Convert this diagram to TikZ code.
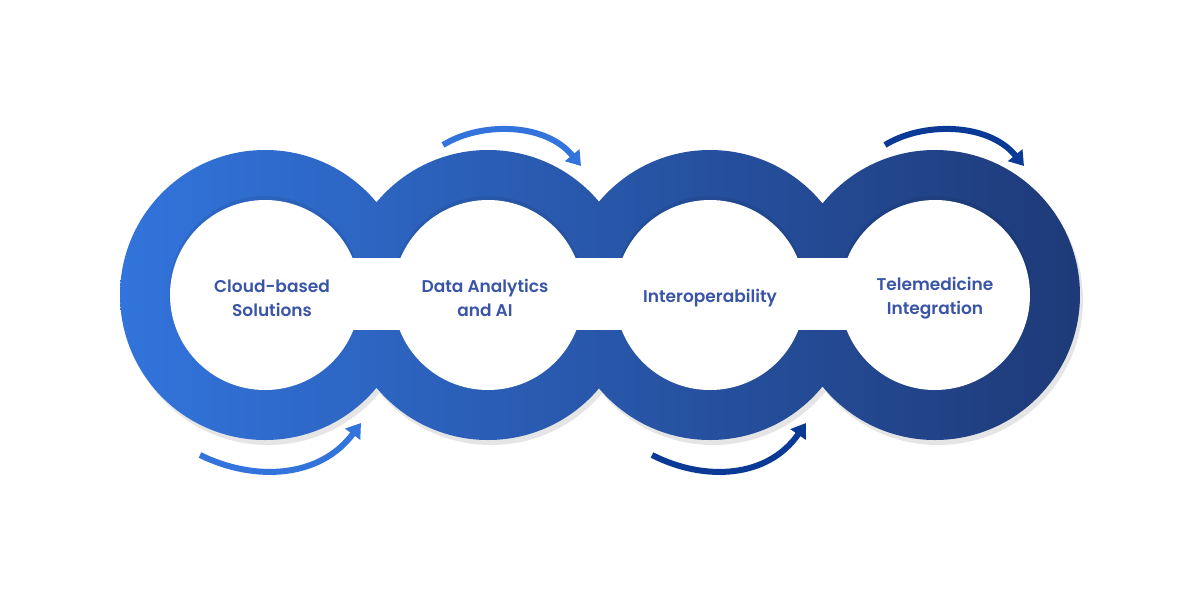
\documentclass[tikz,border=0pt]{standalone}
\usepackage{fontspec}
\setmainfont{Poppins}[UprightFont={* SemiBold}]
\usetikzlibrary{arrows.meta}
\definecolor{txt}{HTML}{3A55A8}
\definecolor{lb}{HTML}{3274DC}
\definecolor{nv}{HTML}{0B3A96}
\definecolor{dk}{HTML}{1E3A78}
\begin{document}
\begin{tikzpicture}[x=1pt,y=-1pt,
  lbl/.style={font=\fontsize{17}{24}\selectfont,text=txt,align=center},
  hole/.style={fill=white},
  arr/.style={line width=6pt,-{Triangle[length=14pt,width=18pt]}}]
\useasboundingbox (0,0) rectangle (1200,600);
\fill[white] (0,0) rectangle (1200,600);
% shadow
\fill[black,opacity=0.10] (268,300) circle (145) (491,300) circle (145) (713,300) circle (145) (938,300) circle (145);
\begin{scope}
\clip (265,295) circle (145) (488,295) circle (145) (710,295) circle (145) (935,295) circle (145);
\shade[left color=lb,right color=dk] (120,150) rectangle (1080,440);
\end{scope}
\fill[black,opacity=0.07] (265,292) circle (96) (488,292) circle (96) (710,292) circle (96) (935,292) circle (96);
\fill[hole] (265,295) circle (95) (488,295) circle (95) (710,295) circle (95) (935,295) circle (95);
\fill[hole] (265,258) rectangle (935,330);
\node[lbl] (c1) at (272,298) {Cloud-based\\Solutions};
\node[lbl] (c2) at (485,298) {Data Analytics\\and AI};
\node[lbl] (c3) at (710,298) {Interoperability};
\node[lbl] (c4) at (935,298) {Telemedicine\\Integration};
\coordinate (a1s) at (443,145); \coordinate (a1e) at (581,166);
\coordinate (a2s) at (885,145); \coordinate (a2e) at (1024,166);
\coordinate (b1s) at (200,455); \coordinate (b1e) at (361,423);
\coordinate (b2s) at (652,455); \coordinate (b2e) at (806,423);
\draw[arr,lb] (a1s) .. controls (480,122) and (545,122) .. (a1e);
\draw[arr,nv] (a2s) .. controls (922,122) and (988,122) .. (a2e);
\draw[arr,lb] (b1s) .. controls (255,482) and (320,478) .. (b1e);
\draw[arr,nv] (b2s) .. controls (705,482) and (768,478) .. (b2e);
\end{tikzpicture}
\end{document}
